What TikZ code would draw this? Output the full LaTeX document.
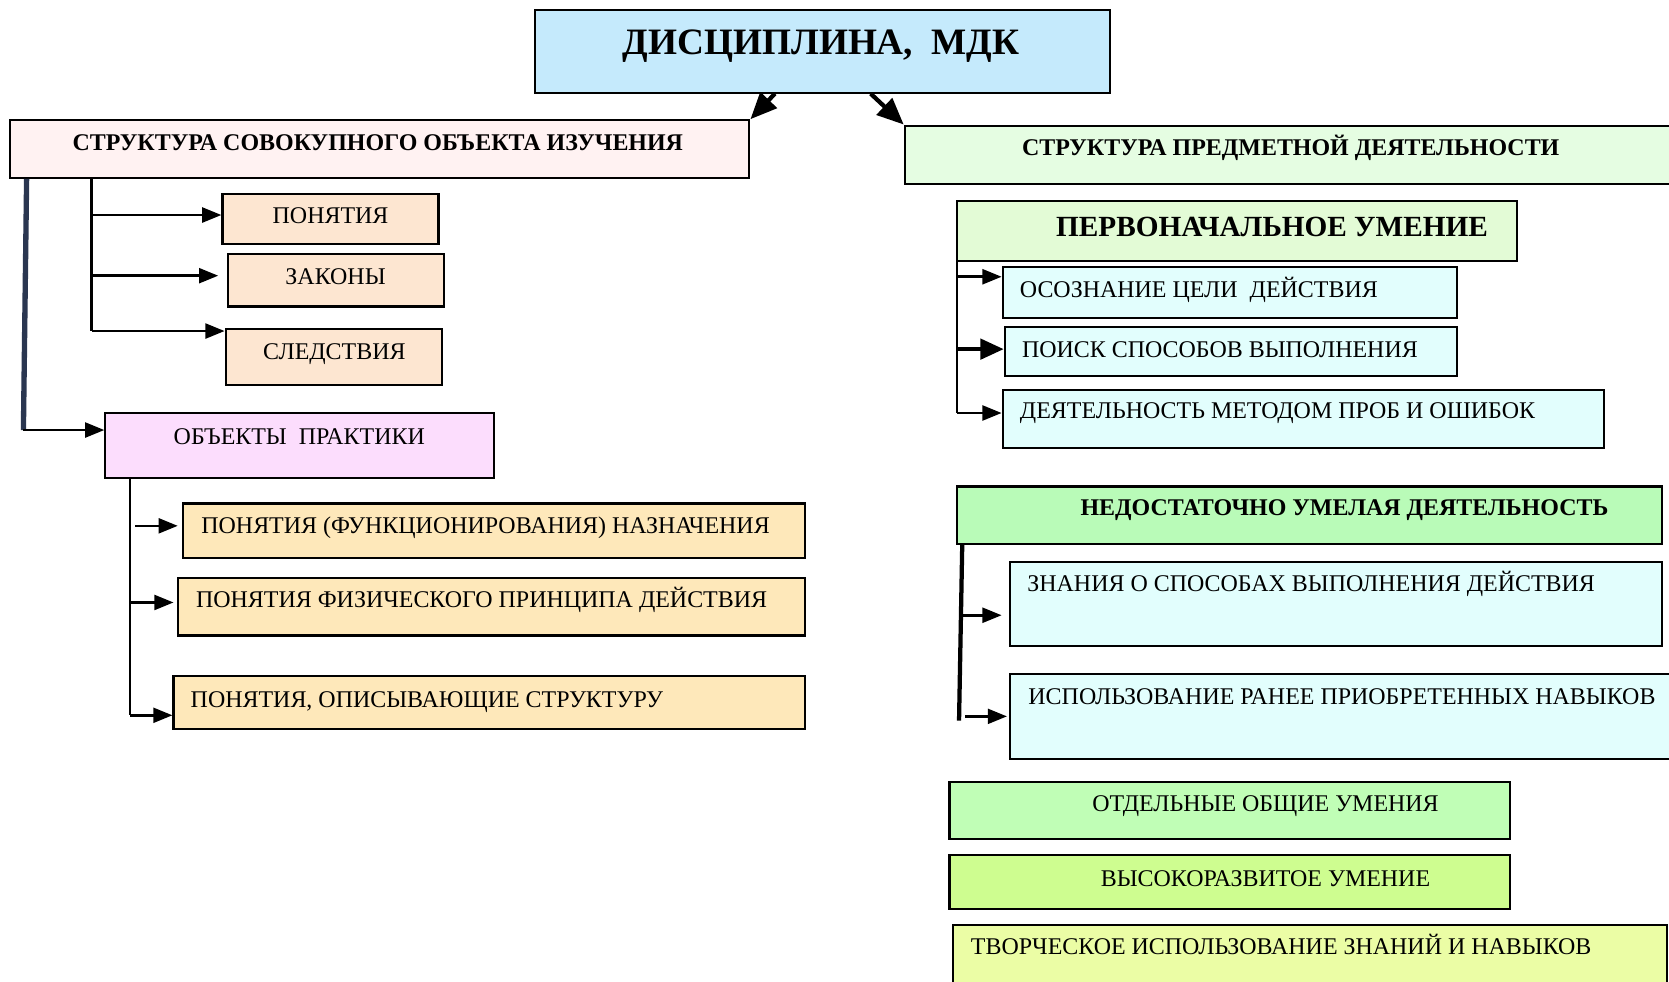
\documentclass[tikz,border=0pt]{standalone}
\usepackage{fontspec}
\setmainfont{Liberation Serif}
\usetikzlibrary{arrows.meta}
\definecolor{cTitle}{HTML}{C5EAFC}
\definecolor{cPink}{HTML}{FFF2F2}
\definecolor{cPeach}{HTML}{FDE6D1}
\definecolor{cLilac}{HTML}{FCDDFD}
\definecolor{cCream}{HTML}{FEE8BA}
\definecolor{cPaleGreen}{HTML}{E5FDE2}
\definecolor{cPaleGreenB}{HTML}{E3FBD6}
\definecolor{cCyan}{HTML}{E2FEFD}
\definecolor{cGreen}{HTML}{B9FBB8}
\definecolor{cGreenB}{HTML}{C0FEB6}
\definecolor{cLime}{HTML}{CEFD90}
\definecolor{cYellowGreen}{HTML}{EBFDA5}
\definecolor{cNavy}{HTML}{2A3650}
\tikzset{
  box/.style={draw=black, line width=2pt, inner sep=0pt, anchor=north west, rectangle},
  txt/.style={inner sep=0pt, anchor=base west, font=\fontsize{22.5}{27}\selectfont},
  btxt/.style={inner sep=0pt, anchor=base west, font=\fontsize{22.5}{26}\selectfont\bfseries},
  arr/.style={line width=2.4pt, -{Triangle[length=18pt,width=14pt]}},
  bigarr/.style={line width=4pt, -{Triangle[length=22pt,width=19pt]}},
  toparr/.style={line width=4pt, -{Triangle[length=25pt,width=21pt]}},
  trunk/.style={line width=2.4pt},
}
\begin{document}
\begin{tikzpicture}[x=1pt,y=-1pt]
\useasboundingbox (0,0) rectangle (1568,922);
% boxes
\node[box, fill=cTitle, minimum width=540pt, minimum height=78pt] (t) at (502,8) {};
\node[box, fill=cPink, minimum width=695pt, minimum height=54pt] (b2) at (8,112) {};
\node[box, fill=cPeach, minimum width=203pt, minimum height=47pt] (b3) at (208,181) {};
\node[box, fill=cPeach, minimum width=203pt, minimum height=49pt] (b4) at (213,238) {};
\node[box, fill=cPeach, minimum width=203pt, minimum height=53pt] (b5) at (211,308) {};
\node[box, fill=cLilac, minimum width=365pt, minimum height=61pt] (b6) at (98,387) {};
\node[box, fill=cCream, minimum width=584pt, minimum height=51pt] (b7) at (171,472) {};
\node[box, fill=cCream, minimum width=589pt, minimum height=54pt] (b8) at (166,542) {};
\node[box, fill=cCream, minimum width=593pt, minimum height=50pt] (b9) at (162,634) {};
\node[box, fill=cPaleGreen, minimum width=730pt, minimum height=55pt] (b10) at (849,117) {};
\node[box, fill=cPaleGreenB, minimum width=526pt, minimum height=56pt] (b11) at (898,188) {};
\node[box, fill=cCyan, minimum width=427pt, minimum height=48pt] (b12) at (941,250) {};
\node[box, fill=cCyan, minimum width=425pt, minimum height=46pt] (b13) at (943,306) {};
\node[box, fill=cCyan, minimum width=565pt, minimum height=55pt] (b14) at (941,365) {};
\node[box, fill=cGreen, minimum width=662pt, minimum height=54pt] (b15) at (898,456) {};
\node[box, fill=cCyan, minimum width=612pt, minimum height=79pt] (b16) at (948,527) {};
\node[box, fill=cCyan, minimum width=640pt, minimum height=80pt] (b17) at (948,632) {};
\node[box, fill=cGreenB, minimum width=527pt, minimum height=53pt] (b18) at (891,734) {};
\node[box, fill=cLime, minimum width=527pt, minimum height=51pt] (b19) at (891,802) {};
\node[box, fill=cYellowGreen, minimum width=671pt, minimum height=70pt] (b20) at (894,868) {};
% texts
\node[inner sep=0pt, anchor=base, font=\fontsize{35}{40}\selectfont\bfseries] (tt) at (771.5,51) {ДИСЦИПЛИНА,\ \ МДК};
\node[btxt] (l2) at (68,141.5) {СТРУКТУРА СОВОКУПНОГО ОБЪЕКТА ИЗУЧЕНИЯ};
\node[txt] (l3) at (256,209.5) {ПОНЯТИЯ};
\node[txt] (l4) at (268,267.5) {ЗАКОНЫ};
\node[txt] (l5) at (247,337.5) {СЛЕДСТВИЯ};
\node[txt] (l6) at (163,417.5) {ОБЪЕКТЫ\ \ ПРАКТИКИ};
\node[txt] (l7) at (189,501.5) {ПОНЯТИЯ (ФУНКЦИОНИРОВАНИЯ) НАЗНАЧЕНИЯ};
\node[txt] (l8) at (184,570.5) {ПОНЯТИЯ ФИЗИЧЕСКОГО ПРИНЦИПА ДЕЙСТВИЯ};
\node[txt] (l9) at (179,664.5) {ПОНЯТИЯ, ОПИСЫВАЮЩИЕ СТРУКТУРУ};
\node[btxt] (l10) at (960,146.5) {СТРУКТУРА ПРЕДМЕТНОЙ ДЕЯТЕЛЬНОСТИ};
\node[inner sep=0pt, anchor=base west, font=\fontsize{27.5}{32}\selectfont\bfseries] (l11) at (992,222) {ПЕРВОНАЧАЛЬНОЕ УМЕНИЕ};
\node[txt] (l12) at (958,279.5) {ОСОЗНАНИЕ ЦЕЛИ\ \ ДЕЙСТВИЯ};
\node[txt] (l13) at (960,335.5) {ПОИСК СПОСОБОВ ВЫПОЛНЕНИЯ};
\node[txt] (l14) at (958,393.5) {ДЕЯТЕЛЬНОСТЬ МЕТОДОМ ПРОБ И ОШИБОК};
\node[btxt] (l15) at (1015,484.5) {НЕДОСТАТОЧНО УМЕЛАЯ ДЕЯТЕЛЬНОСТЬ};
\node[txt] (l16) at (965,555.5) {ЗНАНИЯ О СПОСОБАХ ВЫПОЛНЕНИЯ ДЕЙСТВИЯ};
\node[txt] (l17) at (966,661.5) {ИСПОЛЬЗОВАНИЕ РАНЕЕ ПРИОБРЕТЕННЫХ НАВЫКОВ};
\node[txt] (l18) at (1026,762.5) {ОТДЕЛЬНЫЕ ОБЩИЕ УМЕНИЯ};
\node[txt] (l19) at (1034,832.5) {ВЫСОКОРАЗВИТОЕ УМЕНИЕ};
\node[txt] (l20) at (912,896.5) {ТВОРЧЕСКОЕ ИСПОЛЬЗОВАНИЕ ЗНАНИЙ И НАВЫКОВ};
% title arrows
\draw[toparr] (t.south -| 728,0) -- (b2.north east);
\draw[toparr] (t.south -| 818,0) -- (b10.north west);
% left upper connectors
\coordinate (nv1) at (b2.south -| 25,0);
\coordinate (nv2) at (22,404);
\draw[cNavy, line width=5pt] (nv1) -- (nv2);
\draw[arr] (nv2) -- (b6.west |- nv2);
\coordinate (k1) at (b2.south -| 86,0);
\coordinate (k2) at (86,311);
\draw[trunk] (k1) -- (k2);
\draw[arr] (86,202) -- (b3.west |- 0,202);
\draw[arr] (86,259) -- ([xshift=-8pt]b4.west |- 0,259);
\draw[arr] (k2) -- (b5.west |- k2);
% left lower connectors
\coordinate (p1) at (b6.south -| 122,0);
\coordinate (p2) at (122,672);
\draw[trunk] (p1) -- (p2);
\draw[arr] (127,494) -- ([xshift=-4pt]b7.west |- 0,494);
\draw[arr] (122,566) -- ([xshift=-3pt]b8.west |- 0,566);
\draw[arr] (p2) -- (b9.west |- p2);
% right connectors
\coordinate (r1) at (b11.south west -| 899,0);
\coordinate (r2) at (899,388);
\draw[trunk] (r1) -- (r2);
\draw[arr] (899,260) -- (b12.west |- 0,260);
\draw[bigarr] (899,328) -- (b13.west |- 0,328);
\draw[arr] (r2) -- (b14.west |- r2);
\coordinate (s1) at (b15.south west -| 904,0);
\coordinate (s2) at (901,677);
\draw[line width=4pt] (s1) -- (s2);
\draw[arr] (904,578) -- ([xshift=-7pt]b16.west |- 0,578);
\draw[arr] (907,673) -- ([xshift=-2pt]b17.west |- 0,673);
\end{tikzpicture}
\end{document}
